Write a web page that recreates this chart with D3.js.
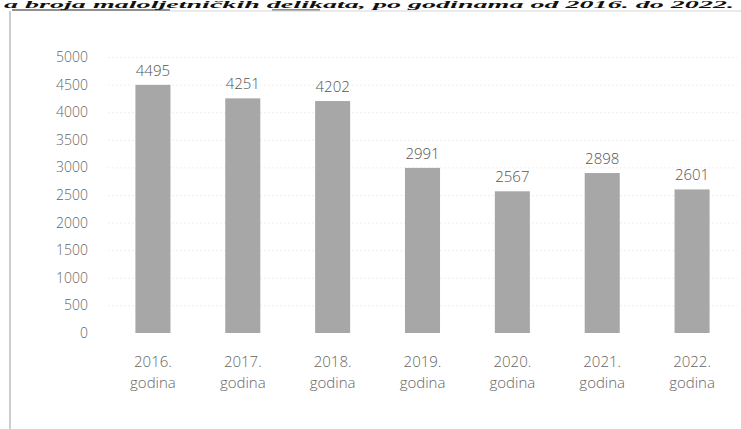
<!DOCTYPE html>
<html>
<head>
<meta charset="utf-8">
<script src="https://cdn.jsdelivr.net/npm/d3@7/dist/d3.min.js"></script>
<style>
  html, body { margin: 0; padding: 0; background: #fff; }
  svg { display: block; }
</style>
</head>
<body>
<svg id="chart" width="741" height="429"></svg>
<script>
const years = ["2016.", "2017.", "2018.", "2019.", "2020.", "2021.", "2022."];
const unitLabel = "godina";
const values = [4495, 4251, 4202, 2991, 2567, 2898, 2601];
const valueLabels = ["4495", "4251", "4202", "2991", "2567", "2898", "2601"];
const yTicks = [0, 500, 1000, 1500, 2000, 2500, 3000, 3500, 4000, 4500, 5000];
const heading = "a broja maloljetničkih delikata, po godinama od 2016. do 2022.";

const svg = d3.select("#chart");
const W = 741, H = 429;
const font = "'Open Sans', 'Lato', 'Liberation Sans', sans-serif";

// heading fragment at top of the scan
svg.append("text")
  .attr("x", 4).attr("y", 8)
  .attr("font-family", "'Liberation Serif', serif")
  .attr("font-style", "italic").attr("font-weight", "bold")
  .attr("font-size", 10).attr("fill", "#111")
  .attr("textLength", 730).attr("lengthAdjust", "spacingAndGlyphs")
  .text(heading);
svg.append("line").attr("x1", 12).attr("x2", 170).attr("y1", 10).attr("y2", 10)
  .attr("stroke", "#222").attr("stroke-width", 1.2);
svg.append("line").attr("x1", 272).attr("x2", 320).attr("y1", 10).attr("y2", 10)
  .attr("stroke", "#222").attr("stroke-width", 1.2);

// chart frame (scanned)
svg.append("line").attr("x1", 170).attr("x2", W).attr("y1", 11).attr("y2", 11)
  .attr("stroke", "#d6d6d6").attr("stroke-width", 1);
svg.append("line").attr("x1", 10).attr("x2", 10).attr("y1", 11).attr("y2", H)
  .attr("stroke", "#bdbdbd").attr("stroke-width", 1.5);

const x = d3.scaleBand().domain(years).range([108, 737]).paddingInner(0.61).paddingOuter(0.305);
const y = d3.scaleLinear().domain([0, 5000]).range([333, 57]);

// faint gridlines
svg.append("g").selectAll("line").data(yTicks.slice(1)).join("line")
  .attr("x1", 108).attr("x2", 737)
  .attr("y1", d => y(d) + 0.5).attr("y2", d => y(d) + 0.5)
  .attr("stroke", "#efefef").attr("stroke-width", 1)
  .attr("stroke-dasharray", "2,2");

// y axis labels
const yAxis = d3.axisLeft(y).tickValues(yTicks).tickSize(0).tickPadding(0).tickFormat(d3.format("d"));
const gy = svg.append("g").attr("transform", "translate(88,0)").call(yAxis);
gy.select(".domain").remove();
gy.selectAll("text")
  .attr("font-family", font).attr("font-weight", 300)
  .attr("font-size", 14).attr("fill", "#666");

// bars
svg.append("g").selectAll("rect").data(values).join("rect")
  .attr("x", (d, i) => x(years[i]))
  .attr("y", d => y(d))
  .attr("width", x.bandwidth())
  .attr("height", d => y(0) - y(d))
  .attr("fill", "#a7a7a7");

// value labels
svg.append("g").selectAll("text").data(values).join("text")
  .attr("x", (d, i) => x(years[i]) + x.bandwidth() / 2)
  .attr("y", d => y(d) - 9)
  .attr("text-anchor", "middle")
  .attr("font-family", font).attr("font-weight", 300)
  .attr("font-size", 15).attr("fill", "#555")
  .text((d, i) => valueLabels[i]);

// x axis labels
const xAxis = d3.axisBottom(x).tickSize(0).tickPadding(0).tickFormat("");
const gx = svg.append("g").attr("transform", "translate(0,333)").call(xAxis);
gx.select(".domain").remove();
gx.selectAll(".tick").each(function(d) {
  const t = d3.select(this).append("text")
    .attr("text-anchor", "middle")
    .attr("font-family", font).attr("font-weight", 300)
    .attr("font-size", 15).attr("fill", "#666");
  t.append("tspan").attr("x", 0).attr("y", 34).text(d);
  t.append("tspan").attr("x", 0).attr("y", 55).text(unitLabel);
});
</script>
</body>
</html>
